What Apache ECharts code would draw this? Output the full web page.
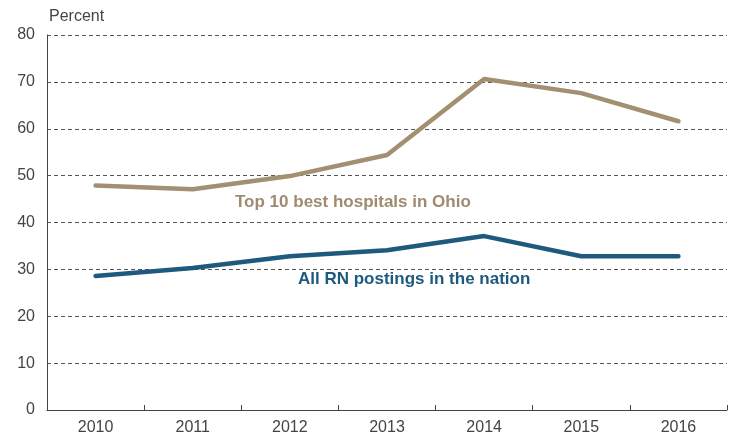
<!DOCTYPE html>
<html><head><meta charset="utf-8">
<script src="https://cdn.jsdelivr.net/npm/echarts@6/dist/echarts.min.js"></script>
<style>html,body{margin:0;padding:0;background:#fff}#c{width:734px;height:436px}</style>
</head><body><div id="c"></div>
<script>
const years = ['2010','2011','2012','2013','2014','2015','2016'];
const ohio = [47.9, 47.1, 49.9, 54.4, 70.6, 67.6, 61.6];
const nation = [28.6, 30.3, 32.8, 34.1, 37.1, 32.8, 32.8];
const yTicks = [0, 80, 10];
const ohioName = 'Top 10 best hospitals in Ohio';
const nationName = 'All RN postings in the nation';
const FONT = '"Liberation Sans", Arial, sans-serif';
const chart = echarts.init(document.getElementById('c'), null, {renderer:'canvas'});
chart.setOption({
  animation: false,
  backgroundColor: '#fff',
  grid: {left: 47, right: 7, top: 35, bottom: 26, containLabel: false},
  xAxis: {
    type: 'category', data: years, boundaryGap: true,
    axisLine: {lineStyle: {color: '#444', width: 1}},
    axisTick: {show: true, inside: true, length: 5, lineStyle: {color: '#444'}},
    axisLabel: {color: '#444', fontSize: 16, fontFamily: FONT, margin: 10}
  },
  yAxis: {
    type: 'value', min: yTicks[0], max: yTicks[1], interval: yTicks[2],
    name: 'Percent', nameLocation: 'end', nameGap: 10,
    nameTextStyle: {color: '#444', fontSize: 16, fontFamily: FONT, align: 'left', padding: [0,0,0,2]},
    axisLine: {show: true, lineStyle: {color: '#444', width: 1}},
    axisTick: {show: false},
    axisLabel: {color: '#444', fontSize: 16, fontFamily: FONT, margin: 12},
    splitLine: {show: true, lineStyle: {color: '#555', type: [4, 3], width: 1}}
  },
  series: [
    {name: ohioName, type: 'line', data: ohio, symbol: 'none',
     lineStyle: {color: '#a38f72', width: 4.5, cap: 'round', join: 'round'}},
    {name: nationName, type: 'line', data: nation, symbol: 'none',
     lineStyle: {color: '#1d5a7e', width: 4.5, cap: 'round', join: 'round'}}
  ],
  graphic: [
    {type: 'text', left: 235, top: 194, style: {text: ohioName, fill: '#9e8b70', font: 'bold 17px ' + FONT}},
    {type: 'text', left: 298, top: 271, style: {text: nationName, fill: '#1d5a7e', font: 'bold 17px ' + FONT}}
  ]
});
</script></body></html>
